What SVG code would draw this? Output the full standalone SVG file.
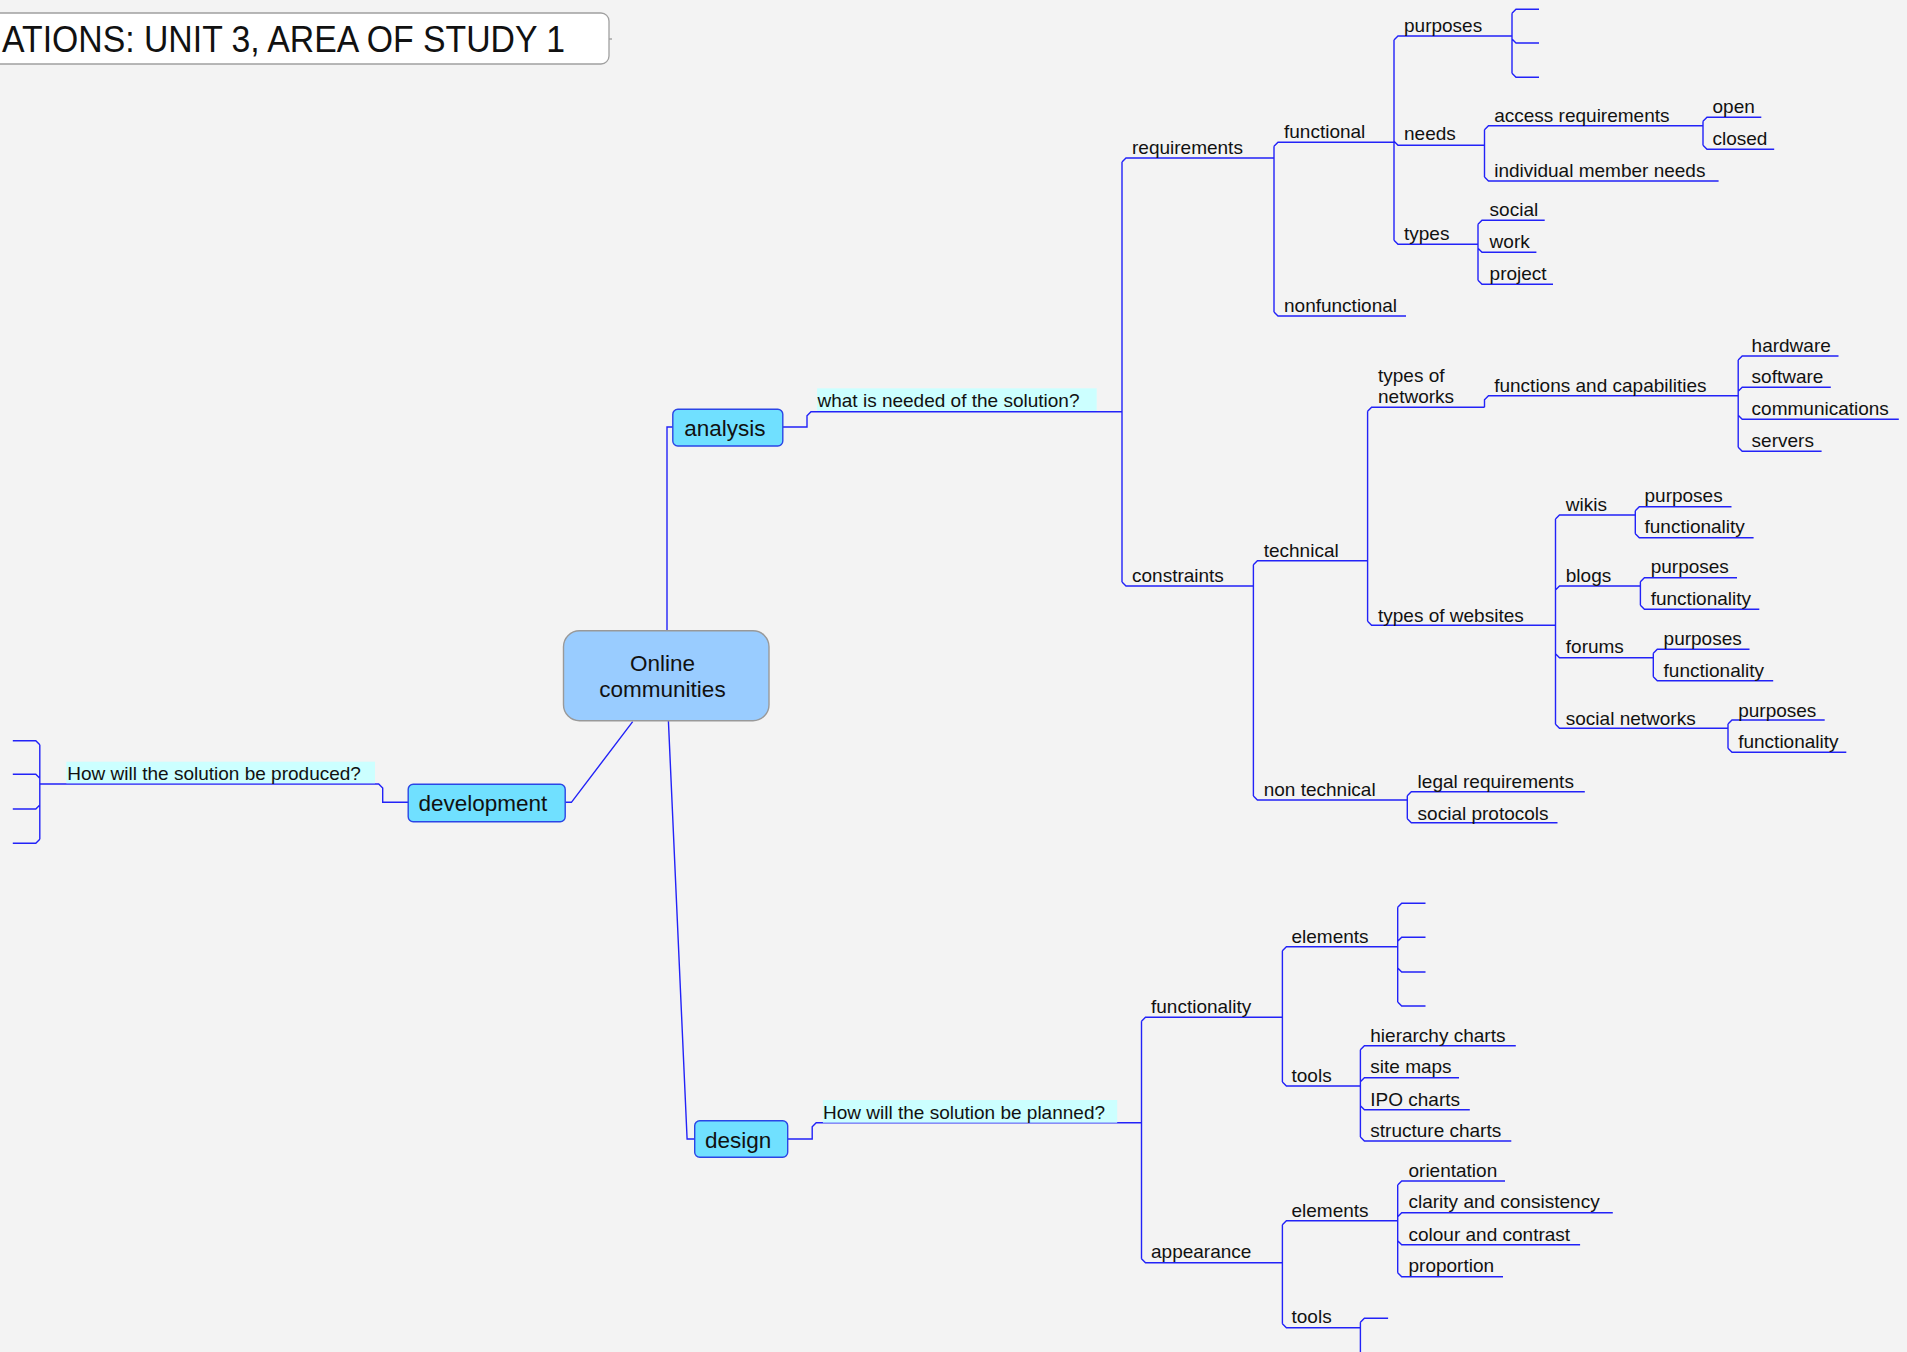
<svg xmlns="http://www.w3.org/2000/svg" width="1907" height="1352" viewBox="0 0 1907 1352">
<style>
.t{font-family:"Liberation Sans",Arial,sans-serif;font-size:19px;fill:#111}
.big{font-family:"Liberation Sans",Arial,sans-serif;font-size:22.5px;fill:#111}
.c{fill:none;stroke:#2222f8;stroke-width:1.4}
.box{fill:#70E0FF;stroke:#2a45e6;stroke-width:1.4}
.lbl{fill:#CCFFFF}
</style>
<rect x="0" y="0" width="1907" height="1352" fill="#f3f3f3"/>
<g id="title">
<rect x="-20" y="13" width="629" height="51" rx="8" fill="#fff" stroke="#a0a0a0" stroke-width="1.3"/>
<text x="2" y="52" textLength="563" lengthAdjust="spacingAndGlyphs" style="font-family:'Liberation Sans',Arial,sans-serif;font-size:36.5px;fill:#111">ATIONS: UNIT 3, AREA OF STUDY 1</text>
</g>
<g id="connectors">
<path class="c" d="M609,39 H612" style="stroke:#a0a0a0"/>
<path class="c" d="M667,631 V427 H673"/>
<path class="c" d="M783,427 H807 V415.7 L811,411.7 H1122"/>
<path class="c" d="M632.7,721.7 L571.4,802.3 H565.3"/>
<path class="c" d="M408.2,802.3 H382.7 V788 L378.7,784 H39.8"/>
<path class="c" d="M668.4,720.7 L687.1,1139 H694.7"/>
<path class="c" d="M787.7,1139 H812.2 V1126.7 L816.2,1122.7 H1141.5"/>
<path class="c" d="M1122,162 V582 M1122,162 L1126,158 H1274 M1122,582 L1126,586 H1253.4"/>
<path class="c" d="M1274,146.3 V312 M1274,146.3 L1278,142.3 H1394 M1274,312 L1278,316 H1406"/>
<path class="c" d="M1394,40 V240.3 M1394,40 L1398,36 H1512 M1394,141.3 L1398,145.3 H1484.5 M1394,240.3 L1398,244.3 H1478"/>
<path class="c" d="M1512,13.3 V73.3 M1512,13.3 L1516,9.3 H1539 M1512,39 L1516,43 H1539 M1512,73.3 L1516,77.3 H1539"/>
<path class="c" d="M1484.5,129.7 V177 M1484.5,129.7 L1488.5,125.7 H1703 M1484.5,177 L1488.5,181 H1718.6"/>
<path class="c" d="M1703,121.3 V145.3 M1703,121.3 L1707,117.3 H1761.3 M1703,145.3 L1707,149.3 H1774.2"/>
<path class="c" d="M1478,224.3 V280.3 M1478,224.3 L1482,220.3 H1544.7 M1478,248.3 L1482,252.3 H1536.4 M1478,280.3 L1482,284.3 H1553"/>
<path class="c" d="M1253.4,564.7 V796 M1253.4,564.7 L1257.4,560.7 H1367.6 M1253.4,796 L1257.4,800 H1407.3"/>
<path class="c" d="M1367.6,411.3 V621.3 M1367.6,411.3 L1371.6,407.3 H1484.5 M1367.6,621.3 L1371.6,625.3 H1555.5"/>
<path class="c" d="M1484.5,407.3 V399.7 L1488.5,395.7 H1738.2"/>
<path class="c" d="M1738.2,360 V447.3 M1738.2,360 L1742.2,356 H1838.5 M1738.2,391.3 L1742.2,387.3 H1830.8 M1738.2,415.3 L1742.2,419.3 H1898.8 M1738.2,447.3 L1742.2,451.3 H1821.6"/>
<path class="c" d="M1555.5,519 V724.3 M1555.5,519 L1559.5,515 H1635.3 M1555.5,590 L1559.5,586 H1640.4 M1555.5,653.7 L1559.5,657.7 H1653.3 M1555.5,724.3 L1559.5,728.3 H1728"/>
<path class="c" d="M1635.3,510.7 V533.7 M1635.3,510.7 L1639.3,506.7 H1731.5 M1635.3,533.7 L1639.3,537.7 H1753.6"/>
<path class="c" d="M1640.4,581.7 V605.3 M1640.4,581.7 L1644.4,577.7 H1737 M1640.4,605.3 L1644.4,609.3 H1759.3"/>
<path class="c" d="M1653.3,653.3 V676.7 M1653.3,653.3 L1657.3,649.3 H1749.5 M1653.3,676.7 L1657.3,680.7 H1773.2"/>
<path class="c" d="M1728,724 V748.3 M1728,724 L1732,720 H1824.7 M1728,748.3 L1732,752.3 H1846.3"/>
<path class="c" d="M1407.3,795.7 V818.7 M1407.3,795.7 L1411.3,791.7 H1584.8 M1407.3,818.7 L1411.3,822.7 H1557.5"/>
<path class="c" d="M1141.5,1021.3 V1258.7 M1141.5,1021.3 L1145.5,1017.3 H1282.4 M1141.5,1258.7 L1145.5,1262.7 H1282.4"/>
<path class="c" d="M1282.4,950.7 V1082 M1282.4,950.7 L1286.4,946.7 H1397.7 M1282.4,1082 L1286.4,1086 H1360.4"/>
<path class="c" d="M1397.7,907.3 V1002 M1397.7,907.3 L1401.7,903.3 H1425.5 M1397.7,941.3 L1401.7,937.3 H1425.5 M1397.7,968 L1401.7,972 H1425.5 M1397.7,1002 L1401.7,1006 H1425.5"/>
<path class="c" d="M1360.4,1049.7 V1137 M1360.4,1049.7 L1364.4,1045.7 H1515.8 M1360.4,1081.7 L1364.4,1077.7 H1459 M1360.4,1105.7 L1364.4,1109.7 H1469.8 M1360.4,1137 L1364.4,1141 H1511.3"/>
<path class="c" d="M1282.4,1224.7 V1323.7 M1282.4,1224.7 L1286.4,1220.7 H1397.7 M1282.4,1323.7 L1286.4,1327.7 H1360.4"/>
<path class="c" d="M1397.7,1185 V1272.7 M1397.7,1185 L1401.7,1181 H1505 M1397.7,1216.7 L1401.7,1212.7 H1612.8 M1397.7,1240.7 L1401.7,1244.7 H1580.1 M1397.7,1272.7 L1401.7,1276.7 H1503"/>
<path class="c" d="M1360.4,1322.3 V1352 M1360.4,1322.3 L1364.4,1318.3 H1388.1"/>
<path class="c" d="M39.8,744.7 V839.3 M39.8,744.7 L35.8,740.7 H12.8 M39.8,778.3 L35.8,774.3 H12.8 M39.8,805 L35.8,809 H12.8 M39.8,839.3 L35.8,843.3 H12.8"/>
</g>
<g id="central">
<rect x="563.5" y="630.7" width="205.5" height="90" rx="16" fill="#99CCFF" stroke="#999" stroke-width="1.4"/>
<text class="big" x="662.5" y="671" text-anchor="middle">Online</text>
<text class="big" x="662.5" y="696.5" text-anchor="middle">communities</text>
</g>
<g id="analysis">
<rect class="box" x="672.8" y="409.3" width="110" height="36.7" rx="5"/>
<text class="big" x="684.3" y="436">analysis</text>
</g>
<g id="development">
<rect class="box" x="408.2" y="784.3" width="157" height="37.4" rx="5"/>
<text class="big" x="418.4" y="811">development</text>
</g>
<g id="design">
<rect class="box" x="694.7" y="1120.7" width="93" height="36.6" rx="5"/>
<text class="big" x="705" y="1147.5">design</text>
</g>
<g id="q-analysis">
<rect class="lbl" x="817.1" y="388.3" width="279.6" height="22.7"/>
<text class="t" x="817.5" y="407.3">what is needed of the solution?</text>
</g>
<g id="q-development">
<rect class="lbl" x="66.3" y="761.7" width="308.7" height="21.6"/>
<text class="t" x="67.3" y="780.3">How will the solution be produced?</text>
</g>
<g id="q-design">
<rect class="lbl" x="822.9" y="1100" width="294.3" height="22.7"/>
<text class="t" x="823" y="1119">How will the solution be planned?</text>
</g>
<g id="n-requirements"><text class="t" x="1132" y="154.2">requirements</text></g>
<g id="n-functional"><text class="t" x="1284" y="138.2">functional</text></g>
<g id="n-nonfunctional"><text class="t" x="1284" y="311.5">nonfunctional</text></g>
<g id="n-purposes"><text class="t" x="1404" y="31.5">purposes</text></g>
<g id="n-needs"><text class="t" x="1404" y="139.5">needs</text></g>
<g id="n-access"><text class="t" x="1494.2" y="121.5">access requirements</text></g>
<g id="n-open"><text class="t" x="1712.5" y="113.2">open</text></g>
<g id="n-closed"><text class="t" x="1712.5" y="144.8">closed</text></g>
<g id="n-individual"><text class="t" x="1494.2" y="176.5">individual member needs</text></g>
<g id="n-types"><text class="t" x="1404" y="239.5">types</text></g>
<g id="n-social"><text class="t" x="1489.6" y="215.5">social</text></g>
<g id="n-work"><text class="t" x="1489.6" y="248.2">work</text></g>
<g id="n-project"><text class="t" x="1489.6" y="279.8">project</text></g>
<g id="n-constraints"><text class="t" x="1132" y="581.5">constraints</text></g>
<g id="n-technical"><text class="t" x="1263.7" y="556.5">technical</text></g>
<g id="n-typesnetworks"><text class="t" x="1378" y="382.2">types of</text><text class="t" x="1378" y="402.5">networks</text></g>
<g id="n-functions"><text class="t" x="1494.2" y="391.5">functions and capabilities</text></g>
<g id="n-hardware"><text class="t" x="1751.6" y="351.5">hardware</text></g>
<g id="n-software"><text class="t" x="1751.6" y="383.2">software</text></g>
<g id="n-communications"><text class="t" x="1751.6" y="414.8">communications</text></g>
<g id="n-servers"><text class="t" x="1751.6" y="446.5">servers</text></g>
<g id="n-typeswebsites"><text class="t" x="1378" y="621.5">types of websites</text></g>
<g id="n-wikis"><text class="t" x="1565.8" y="510.5">wikis</text></g>
<g id="n-wikis-p"><text class="t" x="1644.5" y="502.2">purposes</text></g>
<g id="n-wikis-f"><text class="t" x="1644.5" y="533.2">functionality</text></g>
<g id="n-blogs"><text class="t" x="1565.8" y="581.5">blogs</text></g>
<g id="n-blogs-p"><text class="t" x="1650.7" y="573.2">purposes</text></g>
<g id="n-blogs-f"><text class="t" x="1650.7" y="604.8">functionality</text></g>
<g id="n-forums"><text class="t" x="1565.8" y="653.2">forums</text></g>
<g id="n-forums-p"><text class="t" x="1663.6" y="644.8">purposes</text></g>
<g id="n-forums-f"><text class="t" x="1663.6" y="676.5">functionality</text></g>
<g id="n-socialnetworks"><text class="t" x="1565.8" y="724.8">social networks</text></g>
<g id="n-sn-p"><text class="t" x="1738.2" y="716.5">purposes</text></g>
<g id="n-sn-f"><text class="t" x="1738.2" y="748.2">functionality</text></g>
<g id="n-nontechnical"><text class="t" x="1263.7" y="795.8">non technical</text></g>
<g id="n-legal"><text class="t" x="1417.6" y="788.2">legal requirements</text></g>
<g id="n-protocols"><text class="t" x="1417.6" y="819.8">social protocols</text></g>
<g id="n-functionality"><text class="t" x="1151" y="1013.2">functionality</text></g>
<g id="n-f-elements"><text class="t" x="1291.5" y="943.2">elements</text></g>
<g id="n-f-tools"><text class="t" x="1291.5" y="1081.5">tools</text></g>
<g id="n-hierarchy"><text class="t" x="1370.3" y="1041.5">hierarchy charts</text></g>
<g id="n-sitemaps"><text class="t" x="1370.3" y="1073.2">site maps</text></g>
<g id="n-ipo"><text class="t" x="1370.3" y="1105.5">IPO charts</text></g>
<g id="n-structure"><text class="t" x="1370.3" y="1136.5">structure charts</text></g>
<g id="n-appearance"><text class="t" x="1151" y="1258.2">appearance</text></g>
<g id="n-a-elements"><text class="t" x="1291.5" y="1216.5">elements</text></g>
<g id="n-orientation"><text class="t" x="1408.5" y="1176.5">orientation</text></g>
<g id="n-clarity"><text class="t" x="1408.5" y="1208.2">clarity and consistency</text></g>
<g id="n-colour"><text class="t" x="1408.5" y="1240.5">colour and contrast</text></g>
<g id="n-proportion"><text class="t" x="1408.5" y="1271.5">proportion</text></g>
<g id="n-a-tools"><text class="t" x="1291.5" y="1323.2">tools</text></g>
</svg>
